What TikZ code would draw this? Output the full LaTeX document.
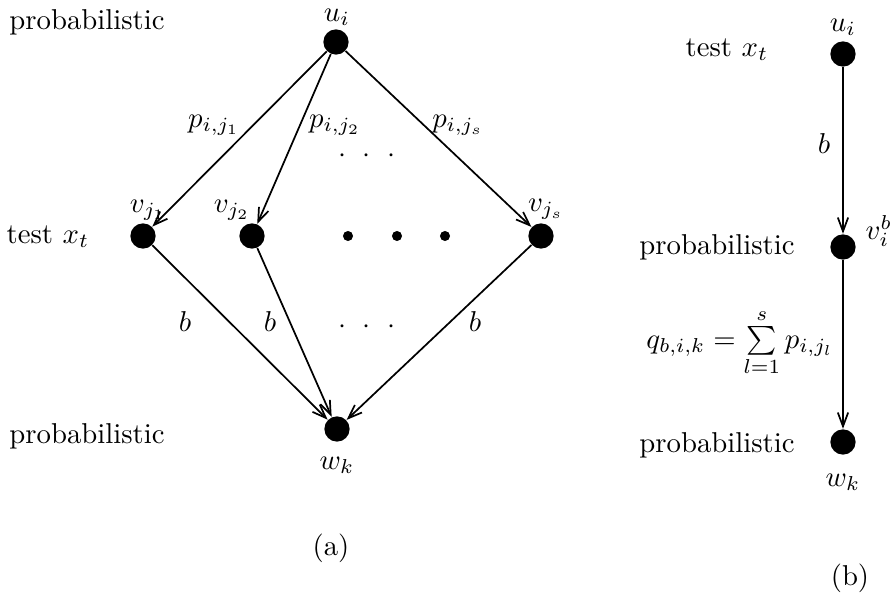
\documentclass[tikz,border=0pt]{standalone}
\usetikzlibrary{arrows.meta}
\tikzset{
  vertex/.style={circle,fill=black,inner sep=0pt,minimum size=8.8pt},
  smalldot/.style={circle,fill=black,inner sep=0pt,minimum size=3.5pt},
  arr/.style={-{Straight Barb[length=4.8pt,width=3.6pt]},line width=0.6pt},
  hdots/.style={inner sep=0pt}
}
\newcommand{\spreaddots}{$\cdot$\hspace{5.6pt}$\cdot$\hspace{5.6pt}$\cdot$}

\begin{document}
\begin{tikzpicture}[x=0.348pt,y=-0.348pt]
    \useasboundingbox (0,0) rectangle (894,601);
    % (a)
    \node[vertex] (u) at (336,42) {};
    \node[vertex] (v1) at (143,236) {};
    \node[vertex] (v2) at (252,236) {};
    \node[smalldot] (d1) at (348,236) {};
    \node[smalldot] (d2) at (397,236) {};
    \node[smalldot] (d3) at (445,236) {};
    \node[vertex] (vs) at (541,236) {};
    \node[vertex] (w) at (337,429) {};
    \node (ulab) at (337,17) {$u_i$};
    \node (v1lab) at (148,210) {$v_{j_1}$};
    \node (v2lab) at (232,210) {$v_{j_2}$};
    \node (vslab) at (546,209) {$v_{j_s}$};
    \node (wlab) at (337,465) {$w_k$};
    \node (t1) at (87,22) {probabilistic};
    \node (t2) at (48,237) {test $x_t$};
    \node (t3) at (87,436) {probabilistic};
    \draw[arr] (u) -- (v1);
    \draw[arr] (u) -- (v2);
    \draw[arr] (u) -- (vs);
    \draw[arr] (v1) -- (w);
    \draw[arr] (v2) -- (w);
    \draw[arr] (vs) -- (w);
    \node (p1) at (214,125) {$p_{i,j_1}$};
    \node (p2) at (335,125) {$p_{i,j_2}$};
    \node (ps) at (458,125) {$p_{i,j_s}$};
    \node[hdots] (topdots) at (367,156) {\spreaddots};
    \node (b1) at (185,322) {$b$};
    \node (b2) at (270,322) {$b$};
    \node (bs) at (475,322) {$b$};
    \node[hdots] (botdots) at (367,327) {\spreaddots};
    \node (capa) at (331,548) {(a)};
    % (b)
    \node[vertex] (ub) at (843,54) {};
    \node[vertex] (vb) at (843,247) {};
    \node[vertex] (wb) at (843,442) {};
    \node (ublab) at (843,27) {$u_i$};
    \node (vblab) at (879,231) {$v_i^b$};
    \node (wblab) at (843,482) {$w_k$};
    \node (tb1) at (727,50) {test $x_t$};
    \node (tb2) at (717,247) {probabilistic};
    \node (tb3) at (717,445) {probabilistic};
    \draw[arr] (ub) -- (vb);
    \draw[arr] (vb) -- (wb);
    \node (bb) at (824,144) {$b$};
    \node (qsum) at (740,343) {$q_{b,i,k}=\sum\limits_{l=1}^{s}p_{i,j_l}$};
    \node (capb) at (850,578) {(b)};
\end{tikzpicture}
\end{document}
